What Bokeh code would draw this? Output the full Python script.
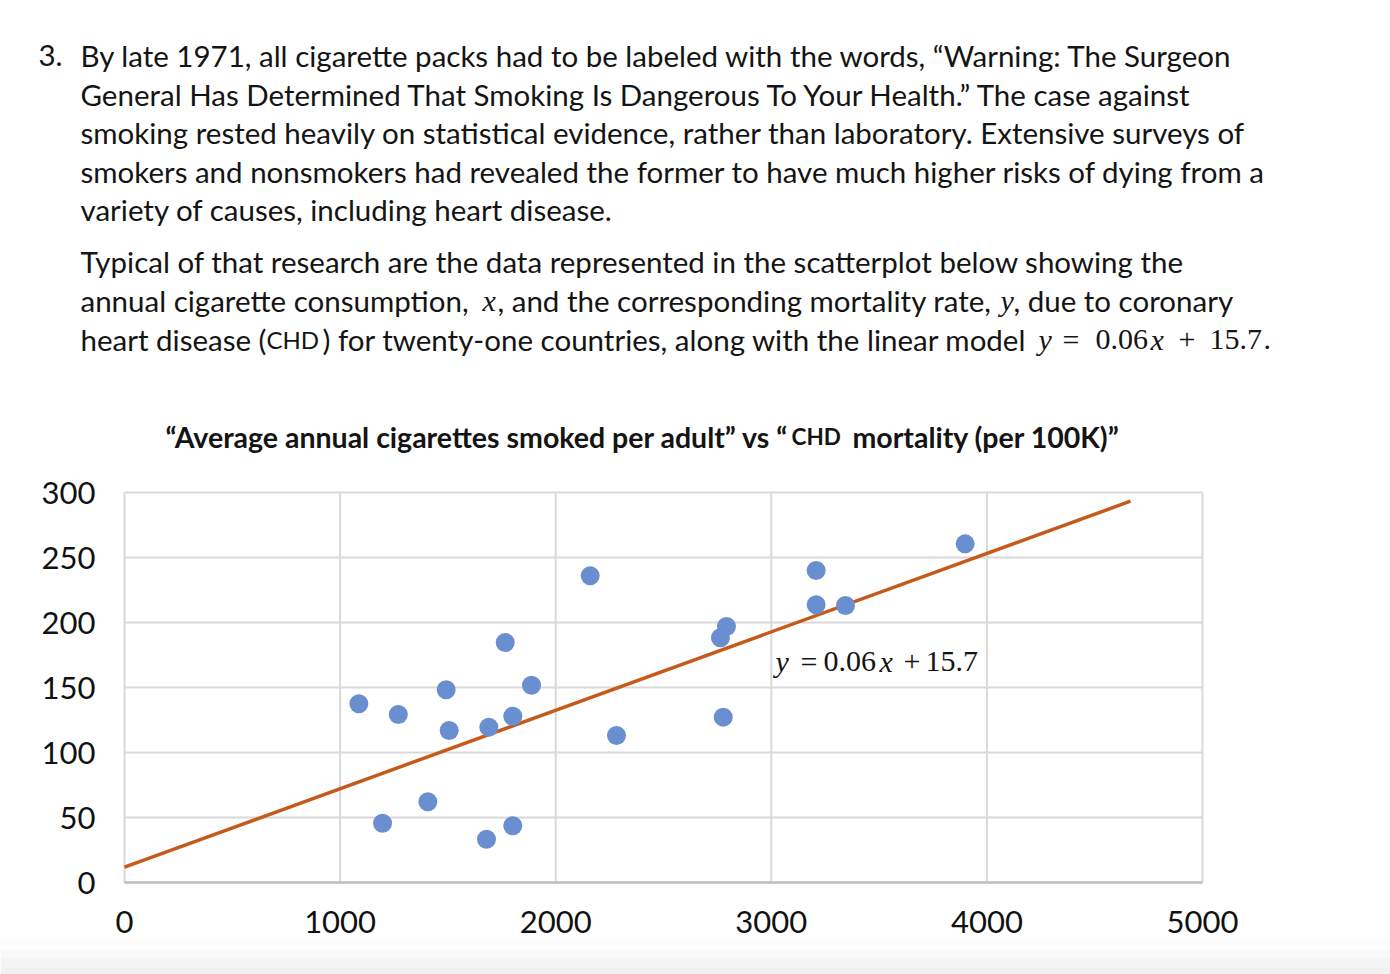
from bokeh.plotting import figure
from bokeh.models import Range1d, FixedTicker, LinearAxis
from bokeh.core.properties import value
from bokeh.embed import file_html
from bokeh.resources import INLINE

# ---------------- data ----------------
cigarettes = [1087, 1270, 1492, 1506, 1690, 1801, 1888, 1766, 2160, 2282,
              1407, 1197, 1679, 1801, 2792, 2764, 2777, 3208, 3208, 3344, 3899]
chd_mortality = [137.5, 129.2, 148.2, 116.9, 119.5, 127.9, 151.8, 184.6, 235.9, 113.1,
                 62.1, 45.6, 33.3, 43.6, 196.9, 188.2, 127.2, 240.0, 213.6, 213.1, 260.5]
trend_x = [0, 4666]
trend_y = [11.8, 293.3]
x_ticks = [0, 1000, 2000, 3000, 4000, 5000]
y_ticks = [0, 50, 100, 150, 200, 250, 300]
equation_parts = ["y", "=", "0.06", "x", "+", "15.7"]

para_lines = [
    "By late 1971, all cigarette packs had to be labeled with the words, \u201cWarning: The Surgeon",
    "General Has Determined That Smoking Is Dangerous To Your Health.\u201d  The case against",
    "smoking rested heavily on statistical evidence, rather than laboratory. Extensive surveys of",
    "smokers and nonsmokers had revealed the former to have much higher risks of dying from a",
    "variety of causes, including heart disease.",
    "Typical of that research are the data represented in the scatterplot below showing the",
]
title_parts = ["\u201cAverage annual cigarettes smoked per adult\u201d vs \u201c", "CHD",
               "mortality (per 100K)\u201d"]

# ---------------- page geometry (pixels) ----------------
W, H = 1390, 974
FL, FR, FT, FB = 124, 1202, 492, 882      # chart plotting area on the page
X0, X1, Y0, Y1 = 0, 5000, 0, 300          # chart data extent
sx = (FR - FL) / (X1 - X0)
sy = (FB - FT) / (Y1 - Y0)

p = figure(width=W, height=H, x_range=Range1d(0, W), y_range=Range1d(H, 0),
           output_backend="svg", toolbar_location=None, min_border=0,
           x_axis_location=None, y_axis_location=None)
p.grid.visible = False
p.outline_line_color = None
p.background_fill_color = "white"

# chart ranges: map chart data onto its area of the page
p.extra_x_ranges = {"cx": Range1d(X0 - FL / sx, X0 + (W - FL) / sx)}
p.extra_y_ranges = {"cy": Range1d(Y0 - (H - FB) / sy, Y0 + FB / sy)}

# faint page-bottom shading
p.quad(left=[0, 0, 0, 0], right=[W, W, W, W], top=[940, 950, 958, 966], bottom=[950, 958, 966, 974],
       fill_color=["#fcfcfc", "#f8f8f8", "#f4f4f4", "#f1f1f1"], line_color=None)

# ---------------- text above the chart ----------------
BODY = value("Lato")
SERIF = value("Liberation Serif")
INK = "#141414"


def txt(xs, ys, texts, font=BODY, size="29.5px", style="normal"):
    p.text(x=xs, y=ys, text=texts, text_font=font, text_font_size=size, text_font_style=style,
           text_color=INK, text_baseline="alphabetic", text_align="left")


B = [55, 94, 132, 171, 209, 261, 300, 339]   # line baselines
txt([38] + [80] * 6, [B[0]] + B[:6], ["3."] + para_lines)
txt([80, 497, 1013, 80, 322], [B[6], B[6], B[6], B[7], B[7]],
    ["annual cigarette consumption,", ", and the corresponding mortality rate,", ", due to coronary",
     "heart disease (", ") for twenty-one countries, along with the linear model"])
txt([266], [B[7]], ["CHD"], size="24px")
txt([482, 1000, 1038, 1150], [B[6], B[6], B[7], B[7]], ["x", "y", "y", "x"],
    font=SERIF, size="30px", style="italic")
txt([1062, 1095, 1178, 1209, 1263], [B[7]] * 5, ["=", "0.06", "+", "15.7", "."],
    font=SERIF, size="30px")

# chart title
txt([165, 852], [436, 436], [title_parts[0], title_parts[2]], size="28.5px", style="bold")
txt([791], [436], [title_parts[1]], size="22.5px", style="bold")

# ---------------- chart ----------------
R = dict(x_range_name="cx", y_range_name="cy")

# grid lines at the tick values
p.segment(x0=x_ticks, x1=x_ticks, y0=[Y0] * len(x_ticks), y1=[Y1] * len(x_ticks),
          line_color="#d9d9d9", line_width=2, **R)
p.segment(x0=[X0] * len(y_ticks), x1=[X1] * len(y_ticks), y0=y_ticks, y1=y_ticks,
          line_color="#d9d9d9", line_width=2, **R)

xaxis = LinearAxis(ticker=FixedTicker(ticks=x_ticks), fixed_location=Y0, bounds=(X0, X1), **R)
yaxis = LinearAxis(ticker=FixedTicker(ticks=y_ticks), fixed_location=X0, bounds=(Y0, Y1), **R)
for ax in (xaxis, yaxis):
    ax.major_tick_line_color = None
    ax.minor_tick_line_color = None
    ax.major_label_text_font = "Lato"
    ax.major_label_text_font_size = "31px"
    ax.major_label_text_color = "#111111"
yaxis.axis_line_color = None
yaxis.major_label_standoff = 23
xaxis.axis_line_color = "#c0c0c0"
xaxis.axis_line_width = 2.5
xaxis.major_label_standoff = 22
p.add_layout(xaxis, "below")
p.add_layout(yaxis, "left")

p.line(trend_x, trend_y, line_width=3.5, line_color="#C55A1B", **R)
p.scatter(cigarettes, chd_mortality, size=19, fill_color="#6A8FD0", line_color=None, **R)

# equation label (page pixels)
txt([775, 879], [661, 661], [equation_parts[0], equation_parts[3]], font=SERIF, size="30px", style="italic")
txt([800, 823, 903, 925], [661] * 4,
    [equation_parts[1], equation_parts[2], equation_parts[4], equation_parts[5]], font=SERIF, size="30px")

open("out.html", "w").write(file_html(p, INLINE))
